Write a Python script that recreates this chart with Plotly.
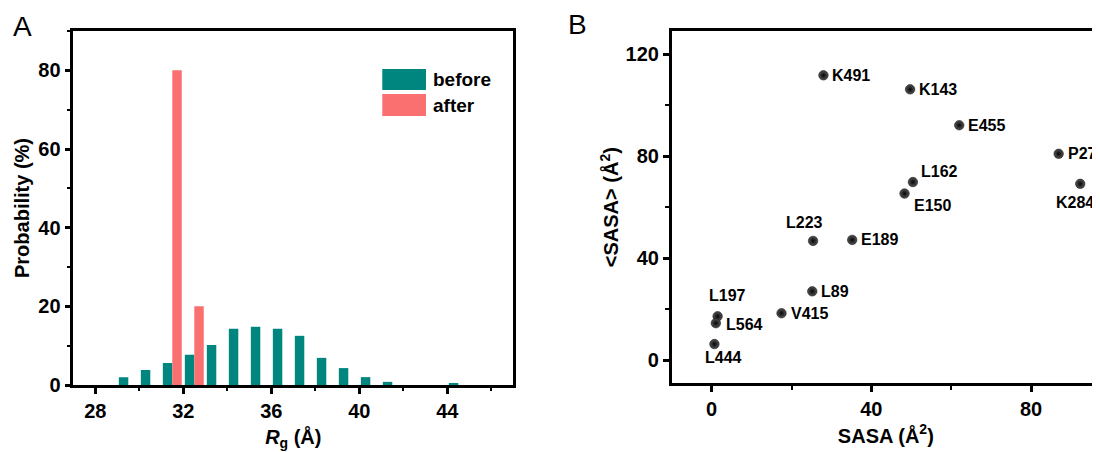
import plotly.graph_objects as go

# ---------- Panel A data ----------
rg_bins = [29.5, 30.5, 31.5, 32.5, 33.5, 34.5, 35.5, 36.5, 37.5, 38.5, 39.5, 40.5, 41.5, 42.5, 43.5, 44.5]
before_prob = [2.0, 3.8, 5.6, 7.7, 10.2, 14.3, 14.8, 14.3, 12.5, 6.9, 4.3, 2.0, 0.8, 0.0, 0.0, 0.4]
after_bins = [31.5, 32.5]
after_prob = [80.0, 20.0]

# ---------- Panel B data ----------
residues = ["K491", "K143", "E455", "P276", "K284", "L162", "E150", "L223", "E189",
            "L89", "V415", "L197", "L564", "L444"]
sasa = [28.0, 49.7, 62.0, 86.9, 92.3, 50.4, 48.3, 25.4, 35.2, 25.2, 17.5, 1.5, 1.05, 0.7]
mean_sasa = [111.8, 106.3, 92.2, 81.0, 69.2, 69.9, 65.4, 46.8, 47.2, 27.0, 18.4, 17.2, 14.5, 6.3]

# label placement styles: (xanchor, xshift px, yshift px)
label_style = [("left", 7, 0), ("left", 7, 0), ("left", 7, 0), ("left", 7, 0), ("center", -5, -19),
               ("left", 6, 11), ("left", 7, -12), ("center", -9, 18), ("left", 7, 0), ("left", 7, 0),
               ("left", 7, 0), ("center", 10, 21), ("left", 8, -1), ("center", 9, -13)]

TEAL = "#00857F"
SALMON = "#FA7070"
FONT = "Liberation Sans, Arial, sans-serif"
OFF = 8  # page body margin offset
W, H = 1100 - OFF, 452 - OFF

def px(x):
    return (x - OFF) / W

def py(y):
    return 1 - (y - OFF) / H

fig = go.Figure()
fig.add_trace(go.Bar(x=rg_bins, y=before_prob, name="before", marker=dict(color=TEAL, line_width=0),
                     xaxis="x", yaxis="y", showlegend=False))
fig.add_trace(go.Bar(x=after_bins, y=after_prob, name="after", marker=dict(color=SALMON, line_width=0),
                     xaxis="x", yaxis="y", showlegend=False))

fig.add_trace(go.Scatter(x=sasa, y=mean_sasa, mode="markers",
                         marker=dict(size=9.5, color="#555555",
                                     gradient=dict(type="radial", color="#050505"),
                                     line=dict(width=0.5, color="black")),
                         xaxis="x2", yaxis="y2", showlegend=False, cliponaxis=False))

tick_font = dict(family=FONT, size=20, color="black", weight="bold")
axis_common = dict(showline=True, linecolor="black", linewidth=2.5, ticks="outside",
                   ticklen=6, tickwidth=2.5, tickcolor="black", showgrid=False, zeroline=False,
                   automargin=False, tickfont=tick_font)
minor_common = dict(ticks="outside", ticklen=3.5, tickwidth=2, tickcolor="black")
title_font = dict(size=20, family=FONT, color="black")

fig.update_layout(
    width=W, height=H, margin=dict(l=0, r=0, t=0, b=0, autoexpand=False),
    plot_bgcolor="white", paper_bgcolor="white",
    barmode="group", bargap=0.14, bargroupgap=0,
    font=dict(family=FONT, color="black"),
    xaxis=dict(domain=[px(73.3), px(513.3)], range=[27, 47], tick0=28, dtick=4, mirror=True,
               minor=dict(dtick=2, tick0=28, **minor_common),
               title=dict(text="<b><i>R</i><sub>g</sub> (Å)</b>", font=title_font, standoff=10),
               anchor="y", **axis_common),
    yaxis=dict(domain=[py(385), py(31)], range=[0, 90], tick0=0, dtick=20, mirror=True,
               minor=dict(dtick=10, tick0=0, **minor_common),
               title=dict(text="<b>Probability (%)</b>", font=title_font, standoff=4),
               anchor="x", **axis_common),
    xaxis2=dict(domain=[px(671.7), 1.0], range=[-10, 97.25], tick0=0, dtick=40, mirror=True,
                minor=dict(dtick=20, tick0=0, **minor_common),
                title=dict(text="<b>SASA (Å<sup>2</sup>)</b>", font=title_font, standoff=10),
                anchor="y2", **axis_common),
    yaxis2=dict(domain=[py(383.3), py(31)], range=[-9.1, 129.2], tick0=0, dtick=40, mirror=False,
                minor=dict(dtick=20, tick0=0, **minor_common),
                title=dict(text="<b>&lt;SASA&gt; (Å<sup>2</sup>)</b>", font=title_font, standoff=2),
                anchor="x2", **axis_common),
)

shapes = []
annotations = []

# point labels (panel B), positioned at the data values
for name, xv, yv, (xa, dx, dy) in zip(residues, sasa, mean_sasa, label_style):
    annotations.append(dict(text=f"<b>{name}</b>", xref="x2", yref="y2", x=xv, y=yv,
                            xanchor=xa, yanchor="middle", xshift=dx, yshift=dy, showarrow=False,
                            font=dict(family=FONT, size=16, color="black")))

# manual legend for panel A
legend_items = [("before", TEAL, 69, 90), ("after", SALMON, 94, 116)]
for name, col, y0, y1 in legend_items:
    shapes.append(dict(type="rect", xref="paper", yref="paper", x0=px(382.3), x1=px(426),
                       y0=py(y1), y1=py(y0), fillcolor=col, line=dict(width=0)))
    annotations.append(dict(text=f"<b>{name}</b>", xref="paper", yref="paper", x=px(431),
                            y=py((y0 + y1) / 2), xanchor="left", yanchor="middle", showarrow=False,
                            font=dict(family=FONT, size=19, color="black")))

# panel letters
annotations.append(dict(text="A", xref="paper", yref="paper", x=px(22.5), y=py(26), xanchor="center",
                        yanchor="middle", showarrow=False, font=dict(family=FONT, size=28, color="black")))
annotations.append(dict(text="B", xref="paper", yref="paper", x=px(577), y=py(25), xanchor="center",
                        yanchor="middle", showarrow=False, font=dict(family=FONT, size=28, color="black")))

fig.update_layout(shapes=shapes, annotations=annotations)
fig.write_html("out.html")
